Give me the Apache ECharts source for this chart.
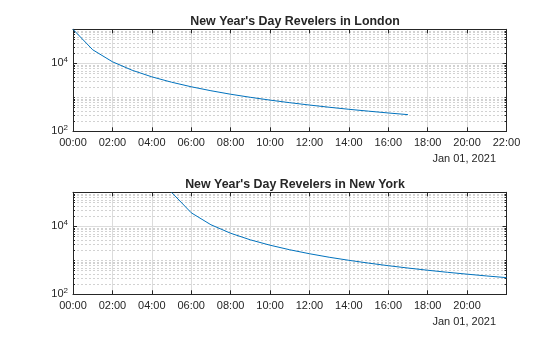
<!DOCTYPE html>
<html><head><meta charset="utf-8">
<script src="https://cdn.jsdelivr.net/npm/echarts@6/dist/echarts.min.js"></script>
<style>html,body{margin:0;padding:0;background:#fff}#c{width:560px;height:337px}</style>
</head><body><div id="c"></div>
<script>
// ---- data ----
const titles = ["New Year's Day Revelers in London", "New Year's Day Revelers in New York"];
const dateLabel = "Jan 01, 2021";
const londonHours = [0,1,2,3,4,5,6,7,8,9,10,11,12,13,14,15,16,17];
const londonRevelers = [100000,25000,11100,6250,4000,2780,2040,1560,1230,1000,826,694,592,510,444,391,346,309];
const nyHours = [5,6,7,8,9,10,11,12,13,14,15,16,17,18,19,20,21,22];
const nyRevelers = [100000,25000,11100,6250,4000,2780,2040,1560,1230,1000,826,694,592,510,444,391,346,309];
const xTickHours = [0,2,4,6,8,10,12,14,16,18,20,22];
const yLabelValues = [100, 10000];
const yMajorGrid = [10000];
const yMinorGrid = [200,300,400,500,600,700,800,900,1000,2000,3000,4000,5000,6000,7000,8000,9000,20000,30000,40000,50000,60000,70000,80000,90000];

const FONT = "'Liberation Sans', Arial, Helvetica, sans-serif";
const TXT = '#262626';
const GRIDC = '#dcdcdc';
const BLUE = '#0072BD';
const pad = h => (h < 10 ? '0' : '') + h + ':00';

const gridTops = [29.3, 192.3];
const grids = gridTops.map(t => ({left: 73, width: 433.5, top: t, height: 102, show: false}));

const xAxes = [], yAxes = [], series = [], title = [];
[0,1].forEach(g => {
  const base = {type: 'value', gridIndex: g, min: 0, max: 22, interval: 2};
  xAxes.push(Object.assign({}, base, {
    position: 'bottom', z: 3,
    axisLine: {show: true, lineStyle: {color: TXT, width: 1}},
    axisTick: {show: true, inside: true, length: 4, lineStyle: {color: TXT}},
    axisLabel: {color: TXT, fontSize: 11, fontFamily: FONT, margin: 6,
      formatter: v => (g === 1 && v === 22) ? '' : pad(v)},
    splitLine: {show: true, lineStyle: {color: GRIDC, width: 1}}
  }));
  xAxes.push(Object.assign({}, base, {
    position: 'top', z: 3,
    axisLine: {show: true, lineStyle: {color: TXT, width: 1}},
    axisTick: {show: true, inside: true, length: 4, lineStyle: {color: TXT}},
    axisLabel: {show: false}, splitLine: {show: false}
  }));
  const ybase = {type: 'log', logBase: 10, gridIndex: g, min: 100, max: 100000, splitLine: {show: false}, z: 3};
  yAxes.push(Object.assign({}, ybase, {
    position: 'left',
    axisLine: {show: true, lineStyle: {color: TXT, width: 1}},
    axisTick: {show: true, inside: true, length: 4, customValues: yLabelValues, lineStyle: {color: TXT}},
    axisLabel: {show: true, customValues: yLabelValues, margin: 5, color: TXT, fontFamily: FONT,
      formatter: v => '{b|10}{s|' + Math.round(Math.log10(v)) + '}',
      rich: {b: {fontSize: 11, fontFamily: FONT, color: TXT},
             s: {fontSize: 8, fontFamily: FONT, color: TXT, padding: [0,0,7,0]}}}
  }));
  yAxes.push(Object.assign({}, ybase, {
    position: 'left',
    axisLine: {show: false},
    axisTick: {show: true, inside: true, length: 2, customValues: yMinorGrid, lineStyle: {color: TXT}},
    axisLabel: {show: false}
  }));
  yAxes.push(Object.assign({}, ybase, {
    position: 'right',
    axisLine: {show: true, lineStyle: {color: TXT, width: 1}},
    axisTick: {show: true, inside: true, length: 4, customValues: yLabelValues, lineStyle: {color: TXT}},
    axisLabel: {show: false}
  }));
  yAxes.push(Object.assign({}, ybase, {
    position: 'right',
    axisLine: {show: false},
    axisTick: {show: true, inside: true, length: 2, customValues: yMinorGrid, lineStyle: {color: TXT}},
    axisLabel: {show: false}
  }));
  const hrs = g === 0 ? londonHours : nyHours;
  const vals = g === 0 ? londonRevelers : nyRevelers;
  series.push({
    type: 'line', xAxisIndex: g * 2, yAxisIndex: g * 4, data: [], silent: true, z: 1,
    markLine: {silent: true, symbol: 'none', animation: false, label: {show: false}, z: 1,
      data: yMinorGrid.map(v => ({yAxis: v, lineStyle: {color: '#d2d2d2', type: [2, 2], width: 1}}))
        .concat(yMajorGrid.map(v => ({yAxis: v, lineStyle: {color: GRIDC, type: 'solid', width: 1}})))}
  });
  series.push({
    type: 'line', xAxisIndex: g * 2, yAxisIndex: g * 4, z: 10,
    data: hrs.map((h, i) => [h, vals[i]]),
    showSymbol: false, symbol: 'none', clip: true,
    lineStyle: {color: BLUE, width: 1}, animation: false
  });
  title.push({text: titles[g], left: 290, top: gridTops[g] - 19, textAlign: 'center',
    textStyle: {fontSize: 12.4, fontWeight: 'bold', color: TXT, fontFamily: FONT}});
  title.push({text: dateLabel, right: 59, top: gridTops[g] + 119,
    textStyle: {fontSize: 11, fontWeight: 'normal', color: TXT, fontFamily: FONT}});
});

const chart = echarts.init(document.getElementById('c'), null, {renderer: 'canvas'});
chart.setOption({
  animation: false, backgroundColor: '#fff',
  title: title, grid: grids, xAxis: xAxes, yAxis: yAxes, series: series
});
</script></body></html>
